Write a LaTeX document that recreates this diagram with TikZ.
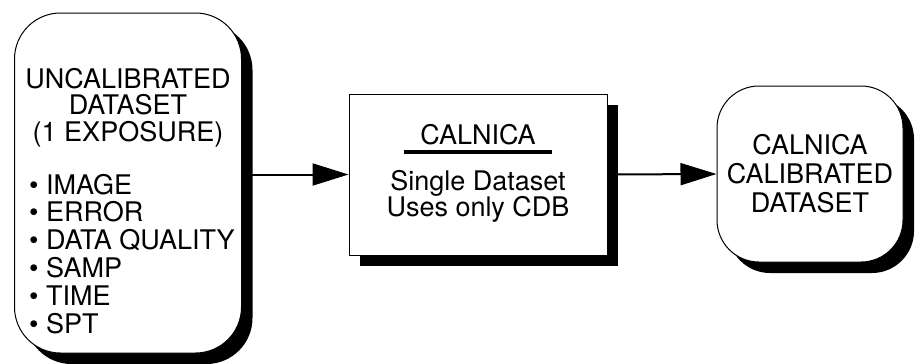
\documentclass[tikz,border=0pt]{standalone}
\usepackage{fontspec}
\setmainfont{TeX Gyre Heros}
\usetikzlibrary{arrows.meta,shadows}

\begin{document}
\begin{tikzpicture}[x=1pt,y=-1pt,
  font=\fontsize{27}{28}\selectfont,
  shbox/.style={draw,line width=1pt,fill=white,inner sep=0pt,
    drop shadow={shadow xshift=11pt,shadow yshift=-11pt,fill=black,opacity=1}},
  flow/.style={line width=2pt,-{Triangle[length=36pt,width=22pt]}},
  item/.style={anchor=base west,inner sep=0pt},
  txt/.style={anchor=base,inner sep=0pt}]
\useasboundingbox (0,0) rectangle (916,364);
\node[shbox,rounded corners=46pt,minimum width=227pt,minimum height=340pt] (raw) at (128,183) {};
\foreach \t [count=\i] in {UNCALIBRATED,DATASET,{(1 EXPOSURE)}}
  \node[txt] (hd\i) at (128,88+26.5*\i-26.5) {\t};
\foreach \t [count=\i] in {IMAGE,ERROR,DATA QUALITY,SAMP,TIME,SPT}
  \node[item] (it\i) at (29,194+27.8*\i-27.8) {\textbullet\ \t};
\node[shbox,minimum width=258pt,minimum height=161pt] (calnica) at (478,174.5) {};
\node[txt] (title) at (478,144) {CALNICA};
\draw[line width=3.5pt] (title.base) ++(-74,8) -- ++(148,0);
\node[txt] (desc1) at (478,190) {Single Dataset};
\node[txt] (desc2) at (478,216) {Uses only CDB};
\node[shbox,rounded corners=42pt,minimum width=186pt,minimum height=176pt,align=center,
  font=\fontsize{27}{29}\selectfont] (cal) at (810,174) {CALNICA\\CALIBRATED\\DATASET};
\draw[flow] (raw.east |- calnica.west) -- (calnica.west);
\draw[flow] (calnica.east) -- (cal.west);
\end{tikzpicture}
\end{document}
